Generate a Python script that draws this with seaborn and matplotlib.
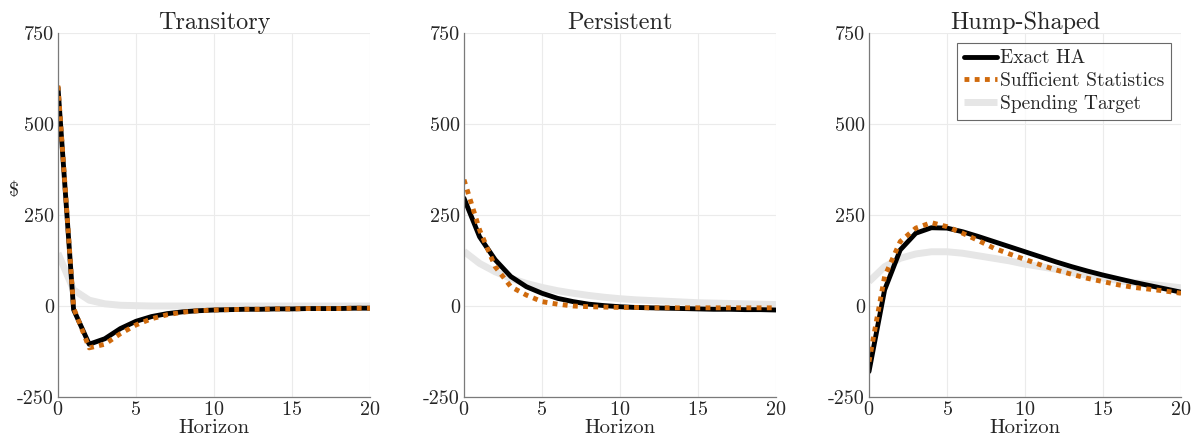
import numpy as np
import pandas as pd
import matplotlib
matplotlib.use("Agg")
import matplotlib.pyplot as plt
import seaborn as sns

# Horizon (quarters)
horizon = list(range(21))

# Transitory shock
trans_exact = [600, -10, -105, -90, -62, -42, -29, -21, -16, -13, -11,
               -10, -9, -9, -8, -8, -7, -7, -7, -6, -6]
trans_suff = [605, -5, -115, -105, -76, -52, -35, -24, -17, -13, -11,
              -10, -9, -9, -8, -8, -7, -7, -7, -6, -6]
trans_target = [145, 44, 16, 6, 2, 1, 0, 0, 0, 0, 0,
                0, 0, 0, 0, 0, 0, 0, 0, 0, 0]

# Persistent shock
pers_exact = [296, 190, 127, 81, 53, 35, 21, 12, 5, 1, -2,
              -4, -5, -6, -7, -8, -9, -9, -10, -10, -11]
pers_suff = [347, 209, 108, 53, 30, 12, 5, 0, -2, -3, -4,
             -4, -5, -5, -5, -5, -5, -5, -5, -5, -5]
pers_target = [150, 117, 94, 76, 62, 51, 42, 35, 29, 24, 20,
               17, 15, 13, 11, 9, 8, 7, 6, 5, 4]

# Hump-shaped shock
hump_exact = [-180, 44, 154, 200, 215, 214, 204, 191, 177, 163, 149,
              135, 121, 108, 96, 85, 75, 65, 56, 47, 38]
hump_suff = [-153, 81, 177, 214, 229, 218, 200, 180, 159, 143, 128,
             113, 99, 87, 76, 67, 58, 51, 46, 41, 35]
hump_target = [67, 108, 131, 143, 149, 149, 145, 138, 131, 124, 115,
               108, 101, 92, 84, 77, 70, 64, 60, 55, 50]

titles = ["Transitory", "Persistent", "Hump-Shaped"]
panels = [
    (trans_exact, trans_suff, trans_target),
    (pers_exact, pers_suff, pers_target),
    (hump_exact, hump_suff, hump_target),
]
series_names = ["Exact HA", "Sufficient Statistics", "Spending Target"]

sns.set_style("white")
plt.rcParams["font.family"] = ["cmr10", "DejaVu Serif"]
plt.rcParams["mathtext.fontset"] = "cm"
plt.rcParams["axes.unicode_minus"] = False
plt.rcParams["axes.formatter.use_mathtext"] = True

black = "#000000"
orange = "#D06A0C"
gray = "#E6E6E6"

fig = plt.figure(figsize=(11.96, 4.48), dpi=100)
lefts = [58 / 1196, 464 / 1196, 869 / 1196]
width = 312 / 1196
bottom = 1 - 397 / 448
height = 364 / 448

for i, (exact, suff, target) in enumerate(panels):
    ax = fig.add_axes([lefts[i], bottom, width, height])
    sns.lineplot(x=horizon, y=target, ax=ax, color=gray, linewidth=5,
                 solid_capstyle="butt", label=series_names[2])
    sns.lineplot(x=horizon, y=exact, ax=ax, color=black, linewidth=3.5,
                 label=series_names[0])
    sns.lineplot(x=horizon, y=suff, ax=ax, color=orange, linewidth=3.5,
                 linestyle=(0, (1, 1.1)), dash_capstyle="butt",
                 label=series_names[1])
    ax.set_xlim(0, 20)
    ax.set_ylim(-250, 750)
    ax.set_xticks([0, 5, 10, 15, 20])
    ax.set_yticks([-250, 0, 250, 500, 750])
    ax.set_yticklabels(["-250", "0", "250", "500", "750"])
    ax.tick_params(labelsize=14.5, length=0, pad=3, colors="#262626")
    ax.grid(True, color="#EBEBEB", linewidth=0.8)
    for s in ["top", "right"]:
        ax.spines[s].set_visible(False)
    for s in ["left", "bottom"]:
        ax.spines[s].set_color("#7a7a7a")
        ax.spines[s].set_linewidth(0.9)
    ax.set_title(titles[i], fontsize=17.5, pad=3)
    ax.set_xlabel("Horizon", fontsize=15, labelpad=0)
    if i == 0:
        ax.set_ylabel(r"\$", fontsize=14.5, rotation=0)
        ax.yaxis.set_label_coords(-0.14, 0.54)
    if i == 2:
        h, l = ax.get_legend_handles_labels()
        order = [1, 2, 0]
        leg = ax.legend([h[k] for k in order], [l[k] for k in order],
                        loc="upper right", fontsize=14, frameon=True,
                        fancybox=False, edgecolor="#444444",
                        handlelength=1.7, handletextpad=0.15,
                        borderpad=0.35, labelspacing=0.25,
                        borderaxespad=0.5)
        leg.get_frame().set_linewidth(0.8)
    else:
        ax.get_legend().remove()

fig.savefig("out.png", dpi=100)
